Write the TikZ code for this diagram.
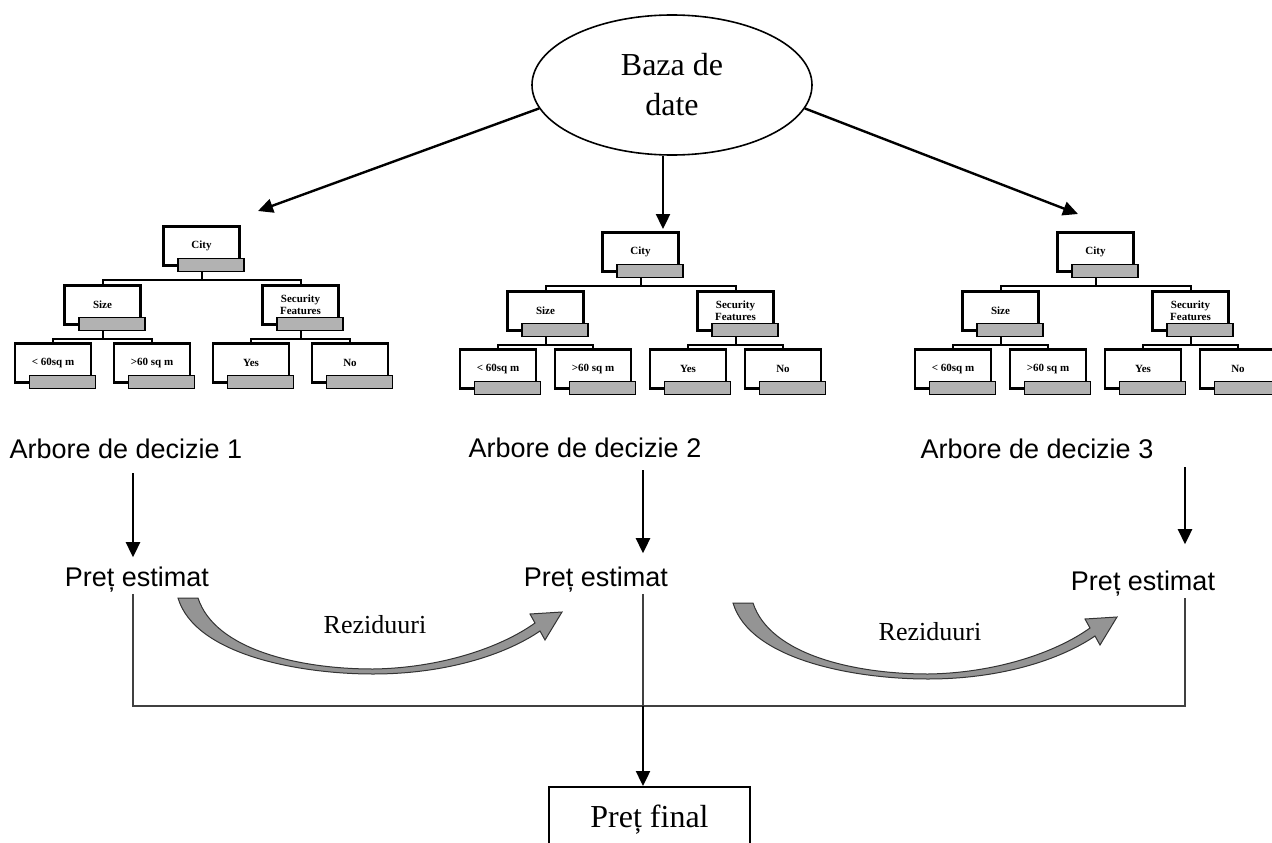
\documentclass[tikz,border=0pt]{standalone}
\usepackage{fontspec}
\setmainfont{Liberation Serif}
\newfontfamily\arialfont{Liberation Sans}
\usetikzlibrary{arrows.meta,shapes.geometric}

\begin{document}
\begin{tikzpicture}[
    x=1pt, y=-1pt,
    bigline/.style={
        draw,
        line width=2.4pt,
        -{Triangle[length=15pt,width=14pt]}
    },
    thinline/.style={
        draw,
        line width=1.2pt,
        black!75
    },
    tline/.style={
        draw,
        line width=2pt
    },
    tbox/.style={
        rectangle,
        draw,
        line width=2.6pt,
        minimum width=76pt,
        minimum height=39pt,
        inner sep=0pt,
        align=center,
        font=\fontsize{11}{11.5}\selectfont\bfseries
    },
    tbar/.style={
        rectangle,
        draw,
        line width=1.6pt,
        fill=black!30,
        minimum width=66pt,
        minimum height=13pt,
        inner sep=0pt
    },
    treetitle/.style={
        anchor=base,
        inner sep=2pt,
        font=\arialfont\fontsize{27}{32}\selectfont
    },
    resid/.style={
        draw=black!80,
        fill=black!42,
        line width=1pt
    },
    finalbox/.style={
        rectangle,
        draw,
        line width=1.6pt,
        anchor=north,
        minimum width=201pt,
        inner ysep=0pt,
        text height=41pt,
        text depth=40pt,
        font=\fontsize{32}{38}\selectfont
    }
]
    \useasboundingbox (0,0) rectangle (1272,843);
    \clip (0,0) rectangle (1272,843);

    % Database
    \node [ellipse, draw, line width=1.6pt, minimum width=280pt, minimum height=140pt,
           inner sep=0pt, align=center, font=\fontsize{32}{40}\selectfont] (baza) at (672,85) {Baza de\\date};

    % Trees
    \foreach \tr/\ox/\oy/\dd in {1/15/225/99, 2/460/231/95, 3/915/231/95} {
        \node [tbox, anchor=north] (t\tr-city) at (\ox+38+1.5*\dd, \oy) {City};
        \node [tbox, anchor=north] (t\tr-size) at (\ox+38+0.5*\dd, \oy+59) {Size};
        \node [tbox, anchor=north] (t\tr-sec) at (\ox+38+2.5*\dd, \oy+59) {Security\\Features};
        \node [tbox, anchor=north] (t\tr-l1) at (\ox+38, \oy+117) {< 60sq m};
        \node [tbox, anchor=north] (t\tr-l2) at (\ox+38+\dd, \oy+117) {>60 sq m};
        \node [tbox, anchor=north] (t\tr-l3) at (\ox+38+2*\dd, \oy+117) {Yes};
        \node [tbox, anchor=north] (t\tr-l4) at (\ox+38+3*\dd, \oy+117) {No};
        % grey bars
        \foreach \nd in {city,size,sec,l1,l2,l3,l4}
            \node [tbar, anchor=north west] (t\tr-\nd-bar) at ([shift={(15,-9)}]t\tr-\nd.south west) {};
        % branches
        \path [tline] (t\tr-city-bar.south -| t\tr-city.south) -- ++(0,8) coordinate (j)
            -| (t\tr-size.north) (j) -| (t\tr-sec.north);
        \path [tline] (t\tr-size-bar.south -| t\tr-size.south) -- ++(0,8) coordinate (j)
            -| (t\tr-l1.north) (j) -| (t\tr-l2.north);
        \path [tline] (t\tr-sec-bar.south -| t\tr-sec.south) -- ++(0,8) coordinate (j)
            -| (t\tr-l3.north) (j) -| (t\tr-l4.north);
    }

    % Database -> trees
    \coordinate (tip1) at (258,211);
    \coordinate (tip2) at (663,229);
    \coordinate (tip3) at (1078,214);
    \path [bigline] (baza.190) -- (tip1);
    \path [bigline] (baza.south -| tip2) -- (tip2);
    \path [bigline] (baza.-10) -- (tip3);

    % Tree titles and estimates
    \node [treetitle] (ad1) at (126,458) {Arbore de decizie 1};
    \node [treetitle] (ad2) at (585,457) {Arbore de decizie 2};
    \node [treetitle] (ad3) at (1037,458) {Arbore de decizie 3};

    \node [treetitle] (pe1) at (137,586) {Preț estimat};
    \node [treetitle] (pe2) at (596,586) {Preț estimat};
    \node [treetitle] (pe3) at (1143,590) {Preț estimat};

    \coordinate (c1) at (133,0);
    \coordinate (c2) at (643,0);
    \coordinate (c3) at (1185,0);
    \coordinate (sum) at (643,706);

    \foreach \i/\s/\e in {1/13/7, 2/11/11, 3/7/24}
        \path [bigline, shorten <=\s pt, shorten >=\e pt] (ad\i.south -| c\i) -- (pe\i.north -| c\i);

    % Residual arrows
    \foreach \dx/\dy in {0/0, 555/5}
        \path [resid, shift={(\dx,\dy)}] (178,598)
            .. controls (195,655) and (300,674) .. (373,674)
            .. controls (445,674) and (505,655) .. (540,631)
            -- (545,640) -- (562,612) -- (530,614) -- (535,623)
            .. controls (500,648) and (440,668) .. (373,669)
            .. controls (300,669) and (215,650) .. (198,598) -- cycle;

    \node [anchor=base, font=\fontsize{26}{30}\selectfont] (rez1) at (375,633) {Reziduuri};
    \node [anchor=base, font=\fontsize{26}{30}\selectfont] (rez2) at (930,640) {Reziduuri};

    % Sum of estimates
    \path [thinline] (pe1.south -| c1) |- (sum) -| (pe3.south -| c3);
    \path [thinline] (pe2.south -| c2) -- (sum);

    \node [finalbox] (final) at (649.5,786) {Preț final};
    \path [bigline] (sum) -- (final.north -| sum);

\end{tikzpicture}
\end{document}
